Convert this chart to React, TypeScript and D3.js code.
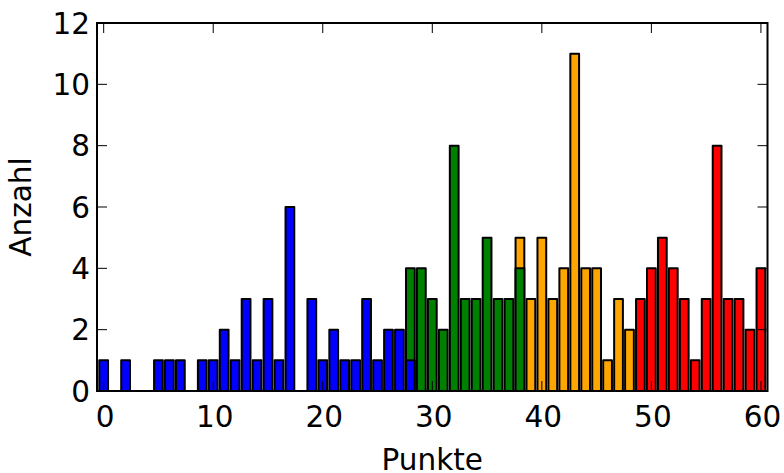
import React from 'react';
import * as d3 from 'd3';

// counts per score, one array per colour group
const blueStart = 0;
const blueCounts = [1, 0, 1, 0, 0, 1, 1, 1, 0, 1, 1, 2, 1, 3, 1, 3, 1, 6, 0, 3, 1, 2, 1, 1, 3, 1, 2, 2, 1];
const greenStart = 28;
const greenCounts = [4, 4, 3, 2, 8, 3, 3, 5, 3, 3, 4];
const orangeStart = 38;
const orangeCounts = [5, 3, 5, 3, 4, 11, 4, 4, 1, 3, 2];
const redStart = 49;
const redCounts = [3, 4, 5, 4, 3, 1, 3, 8, 3, 3, 2, 4];

const xTicks = [0, 10, 20, 30, 40, 50, 60];
const yTicks = [0, 2, 4, 6, 8, 10, 12];

const width = 784;
const height = 473;
const margin = { top: 23, right: 16.5, bottom: 82, left: 97 };
const font = 'DejaVu Sans, sans-serif';
const fontSize = 29.5;
const tickLen = 10;

// drawn back to front so the overlaps look like the original
const series = [
    { start: redStart, counts: redCounts, color: '#ff0000' },
    { start: orangeStart, counts: orangeCounts, color: '#ffa500' },
    { start: greenStart, counts: greenCounts, color: '#008000' },
    { start: blueStart, counts: blueCounts, color: '#0000ff' },
];

export default function App() {
    const x0 = margin.left;
    const x1 = width - margin.right;
    const y0 = height - margin.bottom;
    const y1 = margin.top;

    const x = d3.scaleLinear().domain([-0.61, 60.6]).range([x0, x1]);
    const y = d3.scaleLinear().domain([0, 12]).range([y0, y1]);
    const bw = x(0.8) - x(0);

    return (
        <svg width={width} height={height} style={{ position: 'absolute', left: 0, top: 0 }}
            fontFamily={font}>
            <rect x={0} y={0} width={width} height={height} fill="#fff" />
            {series.map((s, si) => (
                <g key={si}>
                    {s.counts.map((c, i) => (
                        <rect key={i}
                            x={x(s.start + i) - bw / 2}
                            y={y(c)}
                            width={bw}
                            height={y(0) - y(c)}
                            fill={s.color}
                            stroke="#000"
                            strokeWidth={2}
                            strokeLinejoin="round" />
                    ))}
                </g>
            ))}
            {/* ticks, inward on all four sides */}
            <g stroke="#000" strokeWidth={1}>
                {xTicks.map(t => (
                    <g key={'x' + t}>
                        <line x1={x(t)} x2={x(t)} y1={y0} y2={y0 - tickLen} />
                        <line x1={x(t)} x2={x(t)} y1={y1} y2={y1 + tickLen} />
                    </g>
                ))}
                {yTicks.map(t => (
                    <g key={'y' + t}>
                        <line x1={x0} x2={x0 + tickLen} y1={y(t)} y2={y(t)} />
                        <line x1={x1} x2={x1 - tickLen} y1={y(t)} y2={y(t)} />
                    </g>
                ))}
            </g>
            <rect x={x0} y={y1} width={x1 - x0} height={y0 - y1} fill="none" stroke="#000" strokeWidth={2} />
            {xTicks.map(t => (
                <text key={'xl' + t} x={x(t) + 1.5} y={y0 + 36} textAnchor="middle" fontSize={fontSize}>{t}</text>
            ))}
            {yTicks.map(t => (
                <text key={'yl' + t} x={x0 - 7} y={y(t)} dy="0.36em" textAnchor="end" fontSize={fontSize}>{t}</text>
            ))}
            <text x={(x0 + x1) / 2} y={470} textAnchor="middle" fontSize={fontSize}>Punkte</text>
            <text transform={`translate(31,${(y0 + y1) / 2}) rotate(-90)`} textAnchor="middle" fontSize={fontSize}>Anzahl</text>
        </svg>
    );
}
